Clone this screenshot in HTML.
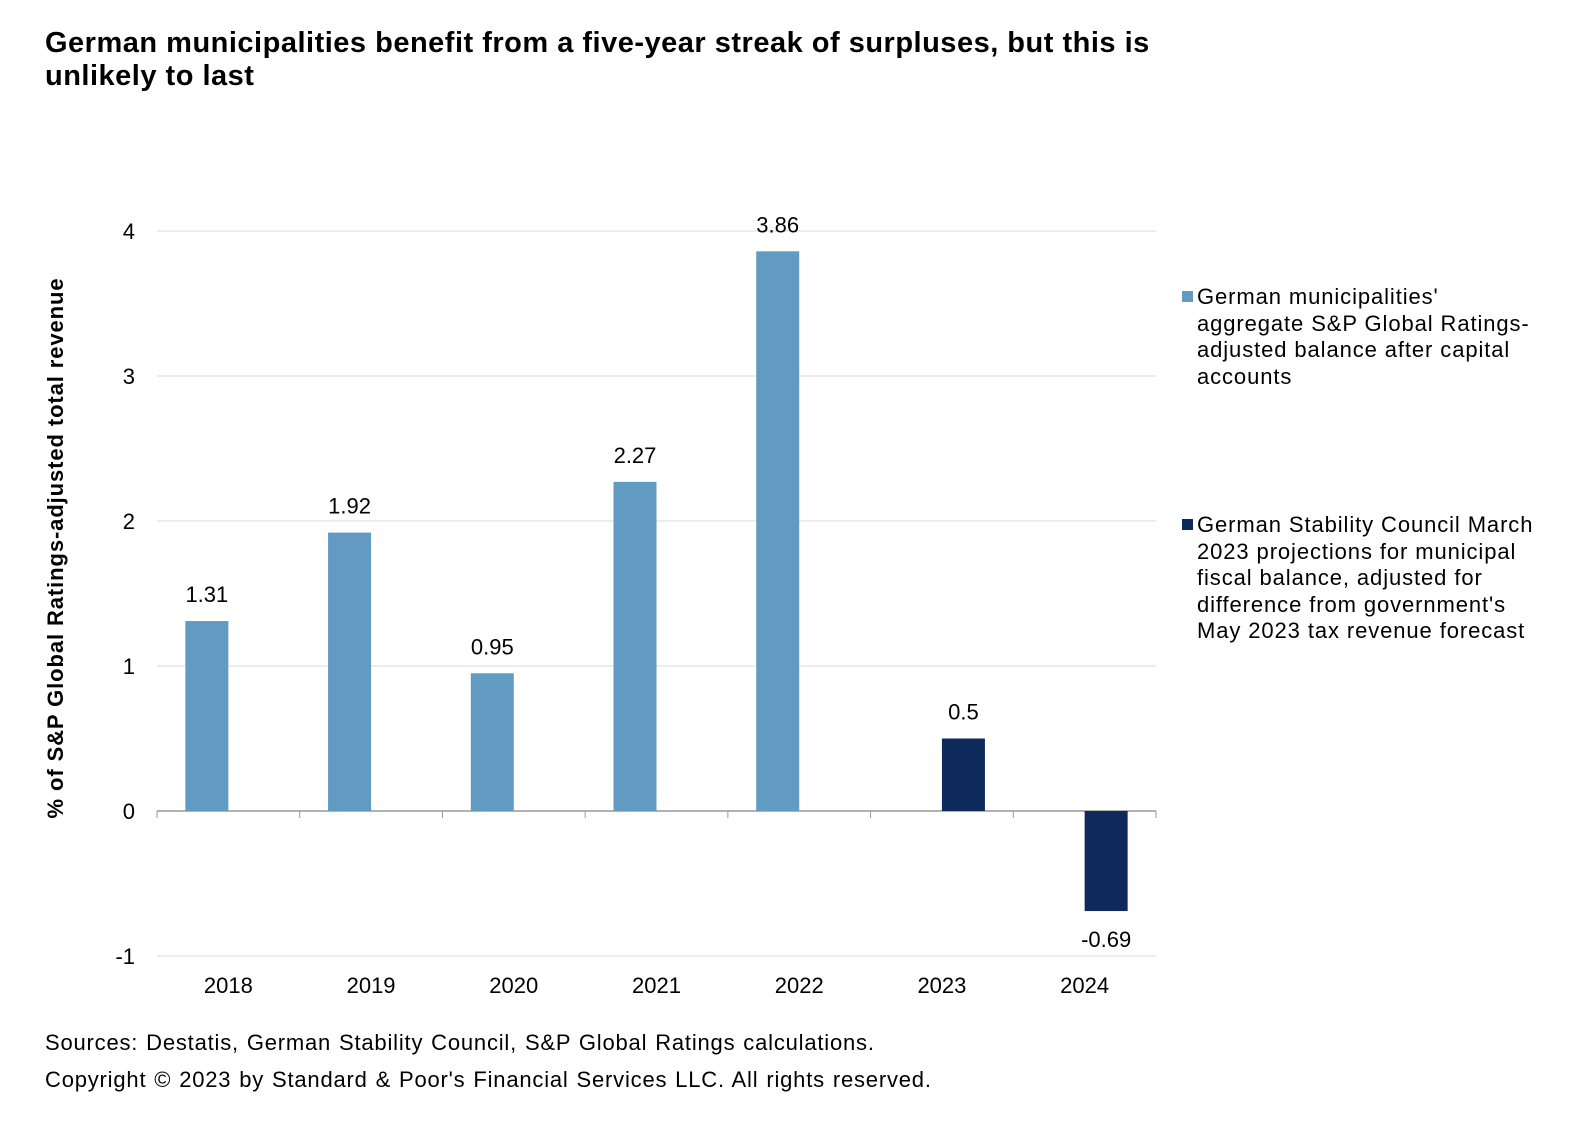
<!DOCTYPE html>
<html><head><meta charset="utf-8"><style>
body{margin:0;background:#fff;font-family:"Liberation Sans",Arial,sans-serif;}
.wrap{position:relative;width:1570px;height:1124px;overflow:hidden;}
.title{position:absolute;left:45px;top:27px;font-weight:bold;font-size:29px;letter-spacing:0.5px;line-height:33px;color:#000;width:1120px;}
.foot{position:absolute;left:45px;font-size:22px;letter-spacing:0.8px;word-spacing:1px;color:#000;}
.leg{position:absolute;left:1197px;font-size:22px;letter-spacing:0.9px;line-height:26.5px;width:342px;color:#000;}
.sw{position:absolute;left:1182px;width:11px;height:11px;}
</style></head><body>
<div class="wrap">
<div class="title">German municipalities benefit from a five-year streak of surpluses, but this is unlikely to last</div>
<svg id="chart" width="1570" height="1124" style="position:absolute;left:0;top:0"></svg>
<div class="sw" style="top:291px;background:#629bc1"></div>
<div class="leg" style="top:284px">German municipalities' aggregate S&amp;P Global Ratings-adjusted balance after capital accounts</div>
<div class="sw" style="top:519px;background:#0e2a5a"></div>
<div class="leg" style="top:512px">German Stability Council March 2023 projections for municipal fiscal balance, adjusted for difference from government's May 2023 tax revenue forecast</div>
<div class="foot" style="top:1030px">Sources: Destatis, German Stability Council, S&amp;P Global Ratings calculations.</div>
<div class="foot" style="top:1067px">Copyright © 2023 by Standard &amp; Poor's Financial Services LLC. All rights reserved.</div>
</div>
<script>
const categories=["2018","2019","2020","2021","2022","2023","2024"];
const actualValues=[1.31,1.92,0.95,2.27,3.86,null,null];
const projectionValues=[null,null,null,null,null,0.5,-0.69];
const yTicks=[-1,0,1,2,3,4];
const NS="http://www.w3.org/2000/svg";
const svg=document.getElementById("chart");
const X0=157,X1=1156,Y0=811,PU=145;
const cw=(X1-X0)/categories.length, bw=43;
const y=v=>Y0-v*PU;
const cx=i=>X0+cw*(i+0.5);
function mk(t,a){const e=document.createElementNS(NS,t);for(const k in a)e.setAttribute(k,a[k]);svg.appendChild(e);return e;}
yTicks.forEach(t=>{
 const g=mk("line",{x1:X0,x2:X1,y1:y(t),y2:y(t),stroke:t===0?"#999":"#d9d9d9","stroke-width":t===0?1.5:1});
 
 
 const l=mk("text",{x:135,y:y(t)+8,"text-anchor":"end","font-size":22,fill:"#000"});
 l.textContent=t;
 
 
});
for(let i=0;i<=categories.length;i++){
 const tk=mk("line",{x1:X0+cw*i,x2:X0+cw*i,y1:Y0,y2:Y0+7,stroke:"#999","stroke-width":1});
 
 
}
categories.forEach((c,i)=>{
 const l=mk("text",{x:cx(i),y:993,"text-anchor":"middle","font-size":22,fill:"#000"});
 l.textContent=c;
 
 
});
function drawSeries(vals,off,color,name){
 vals.forEach((v,i)=>{
  if(v===null)return;
  const x=cx(i)+off-bw/2;
  const top=Math.min(y(v),Y0),h=Math.abs(y(v)-Y0);
  const r=mk("rect",{x:x,y:top,width:bw,height:h,fill:color});
  
  
  const ly=v>=0?y(v)-19:y(v)+36;
  const t=mk("text",{x:x+bw/2,y:ly,"text-anchor":"middle","font-size":22,fill:"#000"});
  t.textContent=v;
  
  
 });
}
drawSeries(actualValues,-bw/2,"#629bc1","actual");
drawSeries(projectionValues,bw/2,"#0e2a5a","projection");
const yt=mk("text",{x:0,y:0,transform:"translate(63,548) rotate(-90)","text-anchor":"middle","font-size":22,"letter-spacing":"0.9","font-weight":"bold",fill:"#000"});
yt.textContent="% of S&P Global Ratings-adjusted  total revenue";


</script>
</body></html>
